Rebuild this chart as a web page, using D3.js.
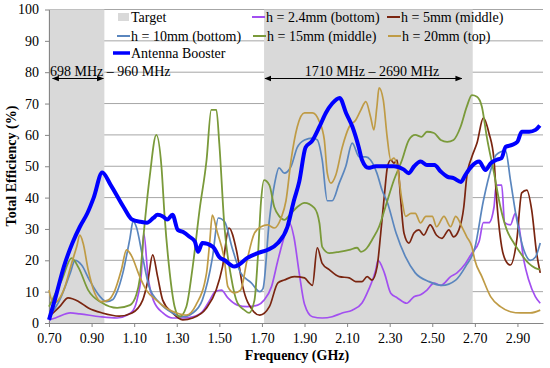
<!DOCTYPE html>
<html>
<head>
<meta charset="utf-8">
<script src="https://cdn.jsdelivr.net/npm/d3@7"></script>
<style>
  body { margin: 0; background: #fff; }
  text { font-family: "Liberation Serif", "Times New Roman", serif; }
</style>
</head>
<body>
<svg id="chart" width="550" height="368"></svg>
<script>
// tick labels
const xTicks = [0.70, 0.90, 1.10, 1.30, 1.50, 1.70, 1.90, 2.10, 2.30, 2.50, 2.70, 2.90];
const yTicks = [0, 10, 20, 30, 40, 50, 60, 70, 80, 90, 100];

// target bands (GHz), value 100
const targetBands = [[0.698, 0.960], [1.71, 2.69]];
const bandLabels = ["698 MHz \u2013 960 MHz", "1710 MHz \u2013 2690 MHz"];

// series: [frequency GHz, efficiency %]
const h24 = [[0.70,1],[0.73,1.6],[0.80,3.2],[0.845,2.9],[0.94,2],[1.02,1.6],[1.065,2.5],[1.095,4],[1.117,8.4],[1.134,16],[1.145,28.7],[1.165,14.8],[1.19,7.3],[1.235,3.2],[1.28,1.6],[1.33,1.6],[1.375,2],[1.42,3.6],[1.455,7.3],[1.48,10],[1.51,10.5],[1.54,8],[1.585,5.7],[1.63,5.2],[1.68,5.7],[1.71,7.3],[1.745,11.6],[1.775,20],[1.805,27.5],[1.83,31.9],[1.85,27.5],[1.875,16],[1.90,6],[1.937,2],[1.983,1.6],[2.03,2],[2.077,3.2],[2.124,4.1],[2.17,6.4],[2.20,10.5],[2.235,17],[2.245,20],[2.275,16],[2.305,9.5],[2.336,8],[2.38,6.3],[2.414,8.4],[2.445,9],[2.475,10.5],[2.508,12.7],[2.54,12],[2.586,14.8],[2.616,16],[2.656,19],[2.686,22.3],[2.72,26],[2.74,32],[2.766,32],[2.79,37],[2.80,44],[2.826,44],[2.84,32],[2.867,31.3],[2.89,35],[2.906,31.3],[2.93,20],[2.953,13.7],[2.984,8.4],[3.007,6.3]];
const h5 = [[0.70,2],[0.75,5.2],[0.79,8],[0.84,6.8],[0.885,4.8],[0.95,3.2],[1.03,2.2],[1.09,3.2],[1.14,7.3],[1.165,13.7],[1.187,21.7],[1.21,14.8],[1.234,7.3],[1.28,3.2],[1.328,1],[1.375,1.6],[1.44,4.8],[1.485,10.5],[1.515,18],[1.545,30.3],[1.58,23.3],[1.61,11.6],[1.656,4.1],[1.69,2.5],[1.735,5.2],[1.775,12.8],[1.805,13.7],[1.852,14.8],[1.90,14.4],[1.922,12.8],[1.937,12],[1.96,24],[1.983,19],[2.016,17],[2.063,14.8],[2.11,14.4],[2.14,13.2],[2.17,13.2],[2.194,14.8],[2.217,13.7],[2.241,18],[2.258,28.7],[2.274,40],[2.29,50],[2.305,52],[2.32,51],[2.335,52],[2.352,39],[2.367,28.7],[2.39,25.5],[2.414,28.7],[2.437,29.7],[2.46,28],[2.49,31.3],[2.52,28],[2.545,27],[2.578,29.7],[2.60,27.5],[2.625,29.7],[2.648,37],[2.662,46.7],[2.686,53],[2.71,57.4],[2.74,65.4],[2.766,60.6],[2.79,52],[2.80,41.5],[2.826,24.3],[2.844,20],[2.867,18.5],[2.897,26.5],[2.92,41.5],[2.944,42.4],[2.967,36],[2.99,22.3],[3.007,16]];
const h10 = [[0.70,2],[0.75,7.3],[0.80,16],[0.822,20],[0.853,18.5],[0.89,13.7],[0.94,8.4],[0.97,6.8],[1.00,7.5],[1.02,10],[1.047,16],[1.08,27],[1.095,32.5],[1.11,30.7],[1.14,21],[1.17,11.6],[1.22,6.4],[1.28,3.2],[1.328,2],[1.375,3.2],[1.42,7.3],[1.468,21],[1.495,33.5],[1.525,32.3],[1.56,24],[1.60,16],[1.65,12.8],[1.69,10],[1.705,11],[1.735,32.9],[1.76,44.6],[1.78,49.5],[1.805,47.8],[1.837,50],[1.866,56],[1.90,58.4],[1.937,59],[1.96,58.4],[1.983,52],[2.007,39],[2.03,39],[2.063,44.6],[2.094,50],[2.124,57.4],[2.157,53],[2.188,53],[2.21,52],[2.24,47.8],[2.264,42.4],[2.29,38.3],[2.33,28.7],[2.375,21],[2.42,16],[2.485,13.2],[2.545,12],[2.61,13.7],[2.656,18],[2.70,24],[2.74,39],[2.78,50],[2.80,53.6],[2.844,55],[2.867,45.6],[2.897,32.9],[2.93,23.3],[2.96,20],[2.984,21],[3.007,25.5]];
const h15 = [[0.70,5.2],[0.76,13.7],[0.806,20.7],[0.84,17.5],[0.884,10.5],[0.947,6.5],[1.02,4.8],[1.08,5.7],[1.11,9],[1.126,14],[1.145,28.6],[1.173,46.7],[1.204,60],[1.228,50],[1.243,34],[1.267,16],[1.29,5.2],[1.313,2],[1.345,5.2],[1.375,18],[1.407,36],[1.44,52],[1.462,68],[1.486,68],[1.50,57],[1.524,30.7],[1.555,14.8],[1.585,6.4],[1.618,4.1],[1.64,3.2],[1.665,7.3],[1.68,20],[1.696,39],[1.71,45.6],[1.735,44],[1.758,37],[1.782,34],[1.805,32.9],[1.837,35],[1.866,37],[1.90,38.3],[1.946,36.7],[1.97,31.9],[1.983,24.3],[2.016,22.3],[2.063,22.7],[2.11,23.3],[2.147,24],[2.165,22.7],[2.194,24],[2.217,26.5],[2.25,30.7],[2.28,37],[2.32,45.6],[2.358,52],[2.39,58.4],[2.42,60],[2.45,59.4],[2.475,61],[2.508,60.6],[2.54,58.4],[2.57,57.8],[2.60,58.4],[2.633,62.6],[2.662,69],[2.686,72.7],[2.71,72.2],[2.733,69],[2.756,59.4],[2.79,47.8],[2.82,37],[2.85,29.7],[2.883,25.5],[2.914,22.3],[2.953,19],[2.984,17.5],[3.007,17]];
const h20 = [[0.70,10.5],[0.72,6.3],[0.744,7.3],[0.775,11.6],[0.806,19],[0.83,24.3],[0.845,28],[0.86,25.5],[0.884,17],[0.915,9.5],[0.947,6.8],[0.978,7.3],[1.01,10.5],[1.04,17],[1.064,23.3],[1.087,21.5],[1.126,14.8],[1.157,10.5],[1.204,7.3],[1.25,4.8],[1.30,3.2],[1.345,2.5],[1.39,5.7],[1.44,16],[1.455,26],[1.467,34.4],[1.49,29],[1.524,20],[1.54,11.6],[1.57,9.6],[1.60,10.5],[1.63,20],[1.665,28.7],[1.696,30.7],[1.726,31.3],[1.758,30.3],[1.79,33.5],[1.813,39],[1.837,52],[1.866,62.6],[1.90,67],[1.937,67],[1.97,64.2],[1.993,58.4],[2.007,47.8],[2.024,44.6],[2.047,47.2],[2.077,56],[2.11,62.6],[2.14,64.7],[2.165,68],[2.188,70.6],[2.21,65.8],[2.226,61.6],[2.24,69],[2.25,75],[2.27,71.1],[2.288,59.4],[2.305,52],[2.32,52.6],[2.335,50],[2.358,39],[2.375,34],[2.40,35],[2.42,35],[2.445,31.9],[2.47,34],[2.50,34],[2.52,30.7],[2.555,34],[2.586,30.7],[2.61,34],[2.64,30.5],[2.662,27.5],[2.686,24.3],[2.70,20],[2.733,14.8],[2.774,8.4],[2.82,5.2],[2.867,3.6],[2.914,3.2],[2.96,3.2],[3.007,4.1]];
const booster = [[0.70,1],[0.73,8],[0.77,18],[0.81,25.5],[0.845,30.7],[0.88,35],[0.91,40],[0.95,48],[0.99,44],[1.05,37],[1.09,33],[1.13,32.3],[1.16,32],[1.19,33.5],[1.21,34.5],[1.235,34],[1.255,33],[1.28,34.5],[1.305,29.7],[1.33,29],[1.36,27.5],[1.385,26],[1.40,22.7],[1.42,25.5],[1.47,24.3],[1.50,21],[1.525,20],[1.57,18],[1.59,18.5],[1.63,20.7],[1.68,22.3],[1.725,23.3],[1.775,25.5],[1.82,30.7],[1.85,39],[1.875,45],[1.905,56],[1.935,58],[1.97,62.6],[2.00,67],[2.03,70],[2.065,71.8],[2.095,67],[2.125,62.6],[2.155,56],[2.17,52],[2.20,49.5],[2.235,50],[2.28,50],[2.32,50],[2.365,49],[2.39,47.8],[2.415,50],[2.445,51.5],[2.475,50.4],[2.51,50.4],[2.54,48.3],[2.57,46.7],[2.60,46.2],[2.635,45],[2.655,47.2],[2.685,50],[2.72,51.5],[2.75,48.8],[2.775,51],[2.80,52],[2.825,52.6],[2.845,56.2],[2.875,56.8],[2.90,57.8],[2.92,61],[2.955,61],[2.985,61.6],[3.005,63]];

const seriesNames = ["h = 2.4mm (bottom)", "h = 5mm (middle)", "h = 10mm (bottom)", "h = 15mm (middle)", "h = 20mm (top)", "Antenna Booster"];
const seriesData = [h24, h5, h10, h15, h20, booster];
const seriesColors = ["#a24ff0", "#7a2510", "#5a86be", "#7a9a3a", "#bf9b45", "#0000ff"];
const seriesWidths = [1.7, 1.7, 1.7, 1.8, 1.7, 4];

const svg = d3.select("#chart");

const x = d3.scaleLinear().domain([0.70, 3.02]).range([49, 543]);
const y = d3.scaleLinear().domain([0, 100]).range([323, 9.5]);

// gridlines
svg.append("g")
    .selectAll("line")
    .data(yTicks.filter(d => d > 0))
    .enter().append("line")
    .attr("x1", x.range()[0]).attr("x2", x.range()[1])
    .attr("y1", d => y(d)).attr("y2", d => y(d))
    .style("stroke", "#a6a6a6")
    .style("stroke-width", 1);

// target bands drawn over the grid
svg.append("g")
    .selectAll("rect")
    .data(targetBands)
    .enter().append("rect")
    .attr("x", d => x(d[0]))
    .attr("width", d => x(d[1]) - x(d[0]))
    .attr("y", y(100))
    .attr("height", y(0) - y(100))
    .style("fill", "#d9d9d9");

// axes
const bottomAxis = d3.axisBottom(x).tickValues(xTicks).tickFormat(d3.format(".2f")).tickSize(4).tickSizeOuter(0);
const gx = svg.append("g")
    .attr("transform", "translate(0," + y(0) + ")")
    .call(bottomAxis);
gx.select(".domain").style("stroke", "#868686");
gx.selectAll(".tick line").style("stroke", "#868686");
gx.selectAll(".tick text")
    .attr("dy", "0.95em")
    .style("font-size", "14px")
    .style("font-family", "Liberation Serif")
    .style("fill", "#000");

const leftAxis = d3.axisLeft(y).tickValues(yTicks).tickSize(4).tickSizeOuter(0);
const gy = svg.append("g")
    .attr("transform", "translate(" + x.range()[0] + ",0)")
    .call(leftAxis);
gy.select(".domain").style("stroke", "#868686");
gy.selectAll(".tick line").style("stroke", "#868686");
gy.selectAll(".tick text")
    .attr("x", -10)
    .style("font-size", "14px")
    .style("font-family", "Liberation Serif")
    .style("fill", "#000");

// series lines
const line = d3.line()
    .x(d => x(d[0]))
    .y(d => y(d[1]))
    .curve(d3.curveMonotoneX);

seriesData.forEach((data, i) => {
    svg.append("path")
        .datum(data)
        .attr("d", line)
        .style("fill", "none")
        .style("stroke", seriesColors[i])
        .style("stroke-width", seriesWidths[i])
        .style("stroke-linejoin", "round");
});

// band annotations with double arrows
const defs = svg.append("defs");
defs.append("marker")
    .attr("id", "arr")
    .attr("viewBox", "0 0 10 10")
    .attr("refX", 9).attr("refY", 5)
    .attr("markerWidth", 7).attr("markerHeight", 7)
    .attr("orient", "auto-start-reverse")
    .append("path")
    .attr("d", "M0,1 L10,5 L0,9 z")
    .style("fill", "#000");

const arrowY = 78.5;
svg.append("line")
    .attr("x1", x(targetBands[0][0]) + 4).attr("x2", x(targetBands[0][1]) - 1)
    .attr("y1", arrowY).attr("y2", arrowY)
    .style("stroke", "#000").style("stroke-width", 1)
    .attr("marker-start", "url(#arr)").attr("marker-end", "url(#arr)");
svg.append("line")
    .attr("x1", x(targetBands[1][0]) + 1).attr("x2", x(targetBands[1][1]) - 11)
    .attr("y1", arrowY).attr("y2", arrowY)
    .style("stroke", "#000").style("stroke-width", 1)
    .attr("marker-start", "url(#arr)").attr("marker-end", "url(#arr)");

svg.append("text")
    .attr("x", 50).attr("y", 76)
    .style("font-size", "14px")
    .text(bandLabels[0]);
svg.append("text")
    .attr("x", 372).attr("y", 76)
    .attr("text-anchor", "middle")
    .style("font-size", "14px")
    .text(bandLabels[1]);

// legend
const legend = svg.append("g");
legend.append("rect")
    .attr("x", 118).attr("y", 13).attr("width", 11).attr("height", 8)
    .style("fill", "#d9d9d9");
legend.append("text").attr("x", 131).attr("y", 22).style("font-size", "14px").text("Target");

const legendPos = [[252, 17], [387, 17], [117, 36], [253, 36], [388, 36], [113, 53]];
seriesNames.forEach((name, i) => {
    const p = legendPos[i];
    const len = i === 5 ? 17 : 13;
    legend.append("line")
        .attr("x1", p[0]).attr("x2", p[0] + len)
        .attr("y1", p[1]).attr("y2", p[1])
        .style("stroke", seriesColors[i])
        .style("stroke-width", i === 5 ? 3.5 : 2);
    legend.append("text")
        .attr("x", p[0] + len + 1).attr("y", p[1] + 5)
        .style("font-size", "14px")
        .text(name);
});

// axis titles
svg.append("text")
    .attr("x", 297).attr("y", 360)
    .attr("text-anchor", "middle")
    .style("font-size", "14px")
    .style("font-weight", "bold")
    .text("Frequency (GHz)");

svg.append("text")
    .attr("transform", "translate(16,166)rotate(270)")
    .attr("text-anchor", "middle")
    .style("font-size", "14px")
    .style("font-weight", "bold")
    .text("Total Efficiency (%)");
</script>
</body>
</html>
